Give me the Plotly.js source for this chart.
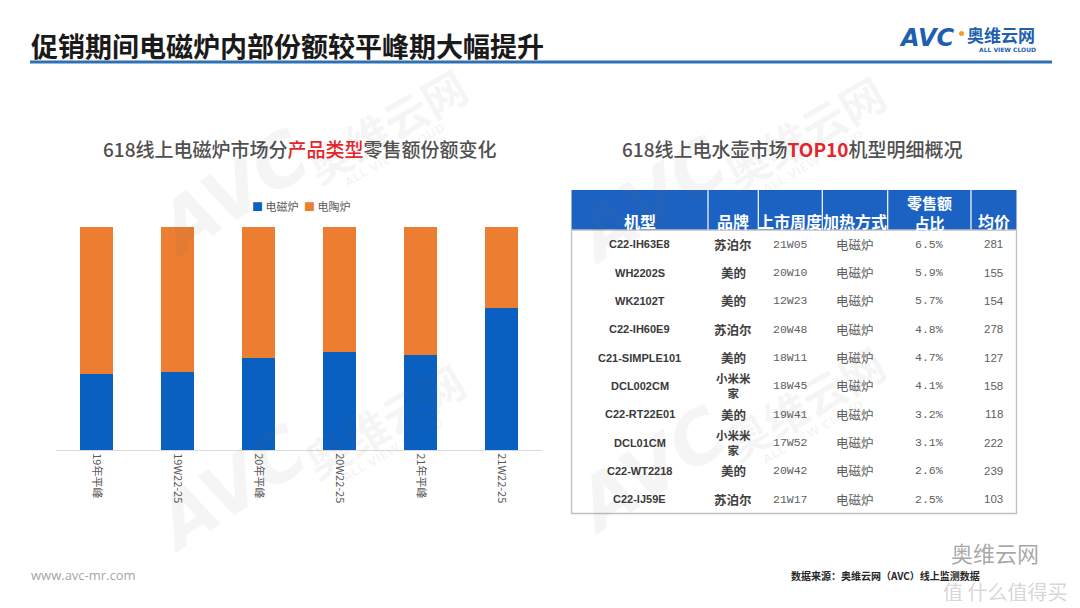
<!DOCTYPE html>
<html><head><meta charset="utf-8">
<script src="https://cdn.plot.ly/plotly-3.0.1.min.js"></script>
<style>html,body{margin:0;padding:0;background:#fff;}#chart{width:1080px;height:608px;}</style>
</head><body><div id="chart"></div>
<script>
// ---------- data ----------
const categories = ["19年平峰","19W22-25","20年平峰","20W22-25","21年平峰","21W22-25"];
const seriesNames = ["电磁炉","电陶炉"];
const inductionShare = [34.0, 35.1, 41.3, 43.9, 42.4, 63.6];
const ceramicShare = [66.0, 64.9, 58.7, 56.1, 57.6, 36.4];

const tableHeaders = ["机型","品牌","上市周度","加热方式","零售额<br>占比","均价"];
const models = ["C22-IH63E8","WH2202S","WK2102T","C22-IH60E9","C21-SIMPLE101","DCL002CM","C22-RT22E01","DCL01CM","C22-WT2218","C22-IJ59E"];
const brands = ["苏泊尔","美的","美的","苏泊尔","美的","小米米<br>家","美的","小米米<br>家","美的","苏泊尔"];
const launchWeeks = ["21W05","20W10","12W23","20W48","18W11","18W45","19W41","17W52","20W42","21W17"];
const heatingTypes = ["电磁炉","电磁炉","电磁炉","电磁炉","电磁炉","电磁炉","电磁炉","电磁炉","电磁炉","电磁炉"];
const salesShares = ["6.5%","5.9%","5.7%","4.8%","4.7%","4.1%","3.2%","3.1%","2.6%","2.5%"];
const avgPrices = ["281","155","154","278","127","158","118","222","239","103"];

// ---------- layout helpers ----------
const W = 1080, H = 608;
const px = x => x / W;
const py = y => 1 - y / H;
const CJK = "Noto Sans CJK SC, Noto Sans, sans-serif";
const BLUE = "#0a60c0", ORANGE = "#ed7d31";
const colors = [BLUE, ORANGE];

const annotations = [];
const shapes = [];
function addText(text, x, y, font, opts) {
  annotations.push(Object.assign({
    text: text, x: px(x), y: py(y), xref: "paper", yref: "paper",
    showarrow: false, xanchor: "center", yanchor: "middle", font: font, borderpad: 0
  }, opts || {}));
}

// ---------- watermarks ----------
const wmColor = "rgba(110,110,110,0.065)";
[[232,193],[230,488],[650,200],[650,470]].forEach(([cx, cy]) => {
  addText("<b><i>AVC</i></b>", cx, cy, {family: "DejaVu Sans", size: 72, color: wmColor}, {textangle: -33});
  addText("<b>奥维云网</b>", cx + 154, cy - 68, {family: CJK, size: 44, color: wmColor}, {textangle: -30});
  addText("<b>ALL VIEW CLOUD</b>", cx + 163, cy - 38, {family: "DejaVu Sans", size: 12, color: wmColor}, {textangle: -30});
});

// ---------- page header ----------
addText("<b>促销期间电磁炉内部份额较平峰期大幅提升</b>", 30, 45, {family: CJK, size: 27, color: "#1a1a1a"}, {xanchor: "left"});
shapes.push({type: "line", xref: "paper", yref: "paper", x0: px(30), x1: px(1052), y0: py(62), y1: py(62), line: {color: "#2e70b4", width: 3}});
// logo
addText("<b><i>AVC</i></b>", 927, 38, {family: "DejaVu Sans", size: 24, color: "#1e5fae"});
shapes.push({type: "circle", xref: "paper", yref: "paper", x0: px(959), x1: px(964), y0: py(31), y1: py(36), fillcolor: "#f29a2e", line: {width: 0}});
addText("<b>奥维云网</b>", 966, 34, {family: CJK, size: 17, color: "#1e5fae"}, {xanchor: "left"});
addText("<b>ALL VIEW CLOUD</b>", 1007, 49.5, {family: "DejaVu Sans", size: 6, color: "#1e5fae"});

// ---------- subtitles ----------
addText('618线上电磁炉市场分<span style="color:#e3262b">产品类型</span>零售额份额变化', 300, 148, {family: CJK, size: 19, color: "#505050", weight: 500});
addText('618线上电水壶市场<span style="color:#e3262b"><b>TOP10</b></span>机型明细概况', 792, 148, {family: CJK, size: 19, color: "#505050", weight: 500});

// ---------- legend (compact, as in the source) ----------
addText('<span style="color:' + BLUE + '">■</span> ' + seriesNames[0], 275, 206, {family: CJK, size: 11, color: "#595959"});
addText('<span style="color:' + ORANGE + '">■</span> ' + seriesNames[1], 327, 206, {family: CJK, size: 11, color: "#595959"});

// ---------- table ----------
const colEdges = [571.5, 708, 758.3, 822.3, 887.7, 971, 1016.5];
const headTop = 190, headBot = 230, tableBot = 513.5;
const rowH = (tableBot - headBot) / models.length;
const colCenter = i => (colEdges[i] + colEdges[i + 1]) / 2;

shapes.push({type: "rect", xref: "paper", yref: "paper", x0: px(colEdges[0]), x1: px(colEdges[6]), y0: py(headTop), y1: py(headBot), fillcolor: "#1b62c2", line: {width: 0}, layer: "below"});
for (let i = 1; i < colEdges.length - 1; i++) {
  shapes.push({type: "line", xref: "paper", yref: "paper", x0: px(colEdges[i]), x1: px(colEdges[i]), y0: py(headTop), y1: py(headBot), line: {color: "#ffffff", width: 1.2}});
}
shapes.push({type: "rect", xref: "paper", yref: "paper", x0: px(colEdges[0]), x1: px(colEdges[6]), y0: py(headBot), y1: py(tableBot), line: {color: "#bfbfbf", width: 1.3}});

const bold = s => String(s).split("<br>").map(t => "<b>" + t + "</b>").join("<br>");
tableHeaders.forEach((h, i) => {
  const nLines = h.split("<br>").length;
  addText(bold(h), colCenter(i), 221 - (nLines - 1) * 8.5, {family: CJK, size: nLines > 1 ? 15 : 16, color: "#ffffff"});
});

const columns = [models, brands, launchWeeks, heatingTypes, salesShares, avgPrices];
const colFonts = [
  {family: "Liberation Sans, Arial, sans-serif", size: 11, color: "#3a3a3a", b: true},
  {family: CJK, size: 12.5, color: "#404040", b: true},
  {family: "Liberation Mono, monospace", size: 11.5, color: "#606060"},
  {family: CJK, size: 12.5, color: "#606060"},
  {family: "Liberation Mono, monospace", size: 11.5, color: "#606060"},
  {family: "Liberation Sans, Arial, sans-serif", size: 11.5, color: "#606060"}
];
columns.forEach((col, c) => {
  const f = colFonts[c];
  col.forEach((v, r) => {
    const cy = headBot + (r + 0.5) * rowH;
    const multi = String(v).indexOf("<br>") >= 0;
    addText(f.b ? bold(v) : String(v), colCenter(c), cy,
      {family: f.family, size: multi ? 11.5 : f.size, color: f.color});
  });
});

// ---------- footer ----------
addText("www.avc-mr.com", 30, 575, {family: "Open Sans, Liberation Sans, sans-serif", size: 13, color: "#a6a6a6"}, {xanchor: "left"});
addText("<b>数据来源：奥维云网（AVC）线上监测数据</b>", 790, 575, {family: CJK, size: 10, color: "#262626"}, {xanchor: "left"});
addText("奥维云网", 995, 552, {family: CJK, size: 22, color: "rgba(80,80,80,0.5)"});
addText("值 什么值得买", 1005, 591, {family: CJK, size: 20, color: "rgba(150,150,150,0.4)"});

// ---------- bars ----------
const traces = [inductionShare, ceramicShare].map((vals, i) => ({
  type: "bar", x: categories, y: vals, name: seriesNames[i],
  marker: {color: colors[i]}, showlegend: false, hoverinfo: "x+y+name"
}));

const layout = {
  width: W, height: H,
  margin: {l: 0, r: 0, t: 0, b: 0},
  paper_bgcolor: "#ffffff", plot_bgcolor: "rgba(0,0,0,0)",
  barmode: "stack", barnorm: "percent", bargap: 0.6,
  showlegend: false,
  font: {family: CJK, color: "#595959"},
  xaxis: {
    domain: [px(56), px(542)], type: "category",
    showline: true, linecolor: "#d9d9d9", linewidth: 1,
    ticks: "", tickangle: 90, automargin: false,
    tickfont: {family: CJK, size: 11, color: "#595959"},
    showgrid: false, zeroline: false, fixedrange: true
  },
  yaxis: {
    domain: [py(450), py(226.7)], range: [0, 100],
    visible: false, showgrid: false, zeroline: false, fixedrange: true
  },
  shapes: shapes,
  annotations: annotations
};

Plotly.newPlot("chart", traces, layout, {displayModeBar: false, staticPlot: true});
</script>
</body></html>
